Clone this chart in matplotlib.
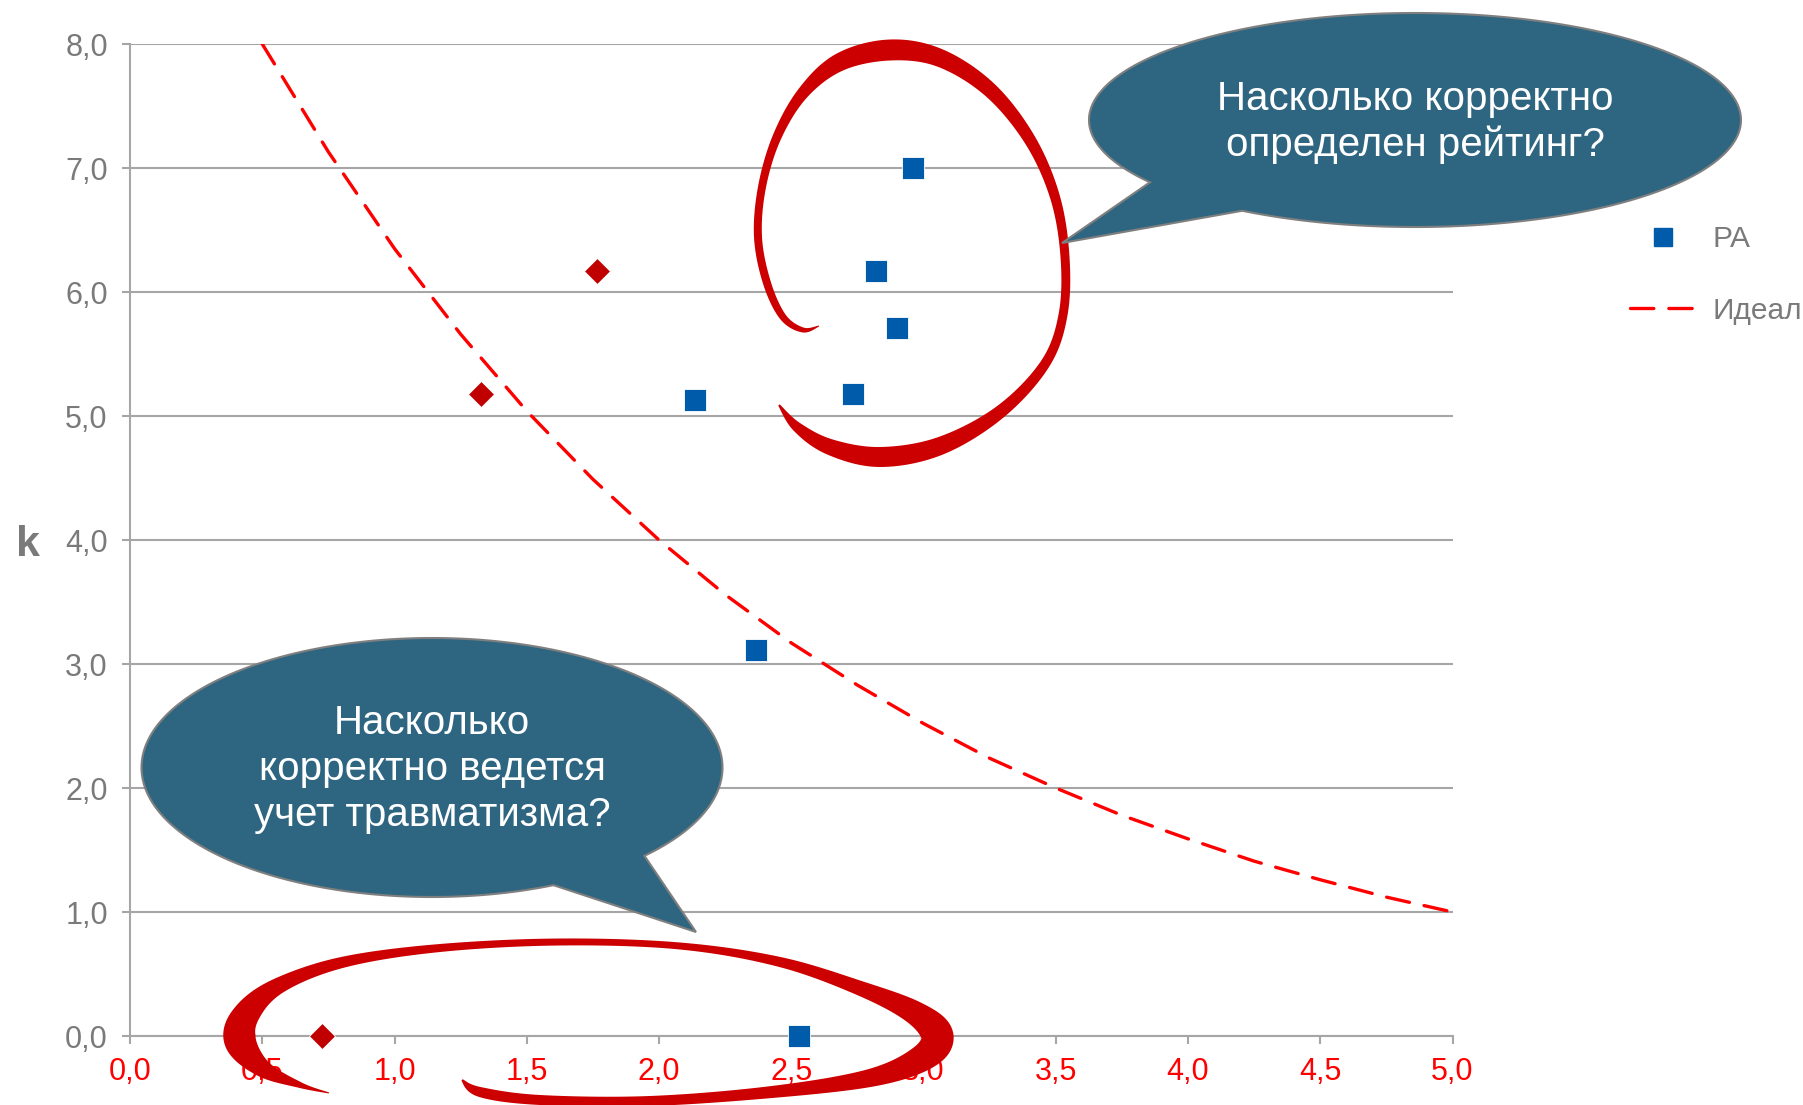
import numpy as np
import matplotlib
matplotlib.use("Agg")
import matplotlib.pyplot as plt
from matplotlib.patches import Polygon
from matplotlib.lines import Line2D
from matplotlib.transforms import Affine2D
from matplotlib.ticker import FuncFormatter, MultipleLocator

plt.rcParams["font.family"] = ["Liberation Sans", "DejaVu Sans"]

W, H = 1803, 1105

# --- data ---
ra_x = [2.96, 2.82, 2.90, 2.735, 2.135, 2.365, 2.53]
ra_y = [7.00, 6.17, 5.71, 5.18, 5.13, 3.11, 0.00]
other_x = [1.765, 1.326, 0.726]
other_y = [6.17, 5.18, 0.00]
ideal_x = [0.5, 0.75, 1.0, 1.25, 1.5, 1.75, 2.0, 2.25, 2.5, 2.75,
           3.0, 3.25, 3.5, 3.75, 4.0, 4.25, 4.5, 4.75, 5.0]
ideal_y = [8.00, 7.13, 6.35, 5.66, 5.04, 4.49, 4.00, 3.56, 3.17, 2.83,
           2.52, 2.24, 2.00, 1.78, 1.59, 1.41, 1.26, 1.12, 1.00]
series_labels = ["РА", "Идеал"]
y_label = "k"
callout_top = "Насколько корректно\nопределен рейтинг?"
callout_bottom = "Насколько\nкорректно ведется\nучет травматизма?"

BLUE = "#005BAA"
DARK_RED = "#C00000"
RED = "#FF0000"
INK = "#CC0000"
GREY = "#7A7A7A"
GRID = "#A6A6A6"
BUBBLE = "#2E6681"

fig = plt.figure(figsize=(W / 100, H / 100), dpi=100)
ax = fig.add_axes([130 / W, 1 - 1036 / H, 1322.5 / W, 992 / H])

# pixel coords (origin top-left) for the overlay shapes
px = Affine2D().scale(1 / W, -1 / H).translate(0, 1) + fig.transFigure

ax.plot(ideal_x, ideal_y, color=RED, lw=2.4, ls=(0, (7, 4.5)),
        dash_capstyle="round", zorder=3)
ax.plot(other_x, other_y, ls="none", marker="D", ms=13, color=DARK_RED,
        mec="white", mew=0.6, clip_on=False, zorder=4)
ax.plot(ra_x, ra_y, ls="none", marker="s", ms=16, color=BLUE,
        mec="white", mew=0.6, clip_on=False, zorder=4)

ax.set_xlim(0, 5)
ax.set_ylim(0, 8)
ax.xaxis.set_major_locator(MultipleLocator(0.5))
ax.yaxis.set_major_locator(MultipleLocator(1.0))
comma = FuncFormatter(lambda v, _: f"{v:.1f}".replace(".", ","))
ax.xaxis.set_major_formatter(comma)
ax.yaxis.set_major_formatter(comma)
ax.grid(axis="y", color=GRID, lw=1.5)
ax.set_axisbelow(True)
for s in ("top", "right"):
    ax.spines[s].set_visible(False)
for s in ("left", "bottom"):
    ax.spines[s].set_color(GRID)
    ax.spines[s].set_linewidth(1.5)
ax.tick_params(axis="both", direction="out", length=6, width=1.5, color=GRID,
               labelsize=22)
ax.tick_params(axis="x", labelcolor=RED, pad=9)
ax.tick_params(axis="y", labelcolor=GREY, pad=10)

ax.set_ylabel(y_label, rotation=0, fontsize=31, fontweight="bold", color=GREY,
              ha="center", va="center")
ax.yaxis.set_label_coords(-0.077, 0.495)

handles = [Line2D([], [], ls="none", marker="s", ms=13, color=BLUE),
           Line2D([], [], color=RED, lw=2.4, ls=(0, (7, 4.5)),
                  dash_capstyle="round")]
ax.legend(handles, series_labels, loc="center left",
          bbox_to_anchor=(1630 / W, 1 - 275 / H), bbox_transform=fig.transFigure,
          frameon=False, fontsize=21.5, labelcolor=GREY, handlelength=2.2,
          handletextpad=0.55, labelspacing=1.45, borderpad=0, borderaxespad=0)


def smooth(pts, n=14):
    # Catmull-Rom through the hand-picked stroke points
    p = np.asarray(pts, float)
    p = np.vstack([p[0], p, p[-1]])
    out = []
    for i in range(1, len(p) - 2):
        p0, p1, p2, p3 = p[i - 1], p[i], p[i + 1], p[i + 2]
        for t in np.linspace(0, 1, n, endpoint=False):
            out.append(0.5 * (2 * p1 + (-p0 + p2) * t
                              + (2 * p0 - 5 * p1 + 4 * p2 - p3) * t ** 2
                              + (-p0 + 3 * p1 - 3 * p2 + p3) * t ** 3))
    out.append(p[-2])
    return np.array(out)


def ink(pts, widths):
    c = smooth(np.column_stack([np.asarray(pts, float), widths]))
    xy, w = c[:, :2], np.clip(c[:, 2], 0.5, None)
    d = np.gradient(xy, axis=0)
    nrm = np.column_stack([-d[:, 1], d[:, 0]])
    nrm /= np.linalg.norm(nrm, axis=1)[:, None]
    left = xy + nrm * w[:, None] / 2
    right = xy - nrm * w[:, None] / 2
    poly = Polygon(np.vstack([left, right[::-1]]), closed=True, fc=INK,
                   ec="none", transform=px, zorder=5)
    fig.add_artist(poly)


def bubble(cx, cy, a, b, t1, t2, tip, text, ty):
    th = np.radians(np.linspace(t2, t1 + 360, 240))
    pts = np.column_stack([cx + a * np.cos(th), cy + b * np.sin(th)])
    pts = np.vstack([pts, tip])
    fig.add_artist(Polygon(pts, closed=True, fc=BUBBLE, ec="#7F7F7F", lw=1.5,
                           transform=px, zorder=6))
    fig.text(cx, ty, text, transform=px, ha="center", va="center",
             color="white", fontsize=29, linespacing=1.25, zorder=7)


# red "hand-drawn" loops
ink([(819, 326), (803, 330), (783, 317), (767, 283), (758, 237), (762, 187),
     (777, 137), (803, 93), (840, 62), (890, 50), (940, 58), (990, 90),
     (1030, 140), (1055, 197), (1065, 257), (1063, 315), (1045, 364),
     (1000, 412), (940, 446), (880, 457), (830, 447), (797, 427), (779, 405)],
    [1, 5, 7, 8, 8, 8, 9, 12, 18, 21, 18, 15, 12, 10, 9, 9, 10, 13, 18, 20,
     16, 10, 2])
ink([(329, 1093), (300, 1085), (262, 1068), (240, 1040), (248, 1012),
     (280, 985), (344, 962), (440, 948), (560, 942), (680, 946), (780, 962),
     (862, 989), (915, 1013), (937, 1036), (922, 1058), (870, 1078),
     (772, 1092), (650, 1101), (540, 1100), (480, 1092), (462, 1080)],
    [1, 6, 18, 32, 26, 16, 11, 8, 7, 7, 10, 15, 24, 33, 27, 18, 12, 10, 10,
     10, 2])

# speech bubbles
bubble(1415, 120, 326, 107, 122, 144.4, (1062, 243), callout_top, 122)
bubble(432, 767.5, 290.5, 129.5, 43, 65.3, (696, 932), callout_bottom, 769)

fig.savefig("out.png", dpi=100)
